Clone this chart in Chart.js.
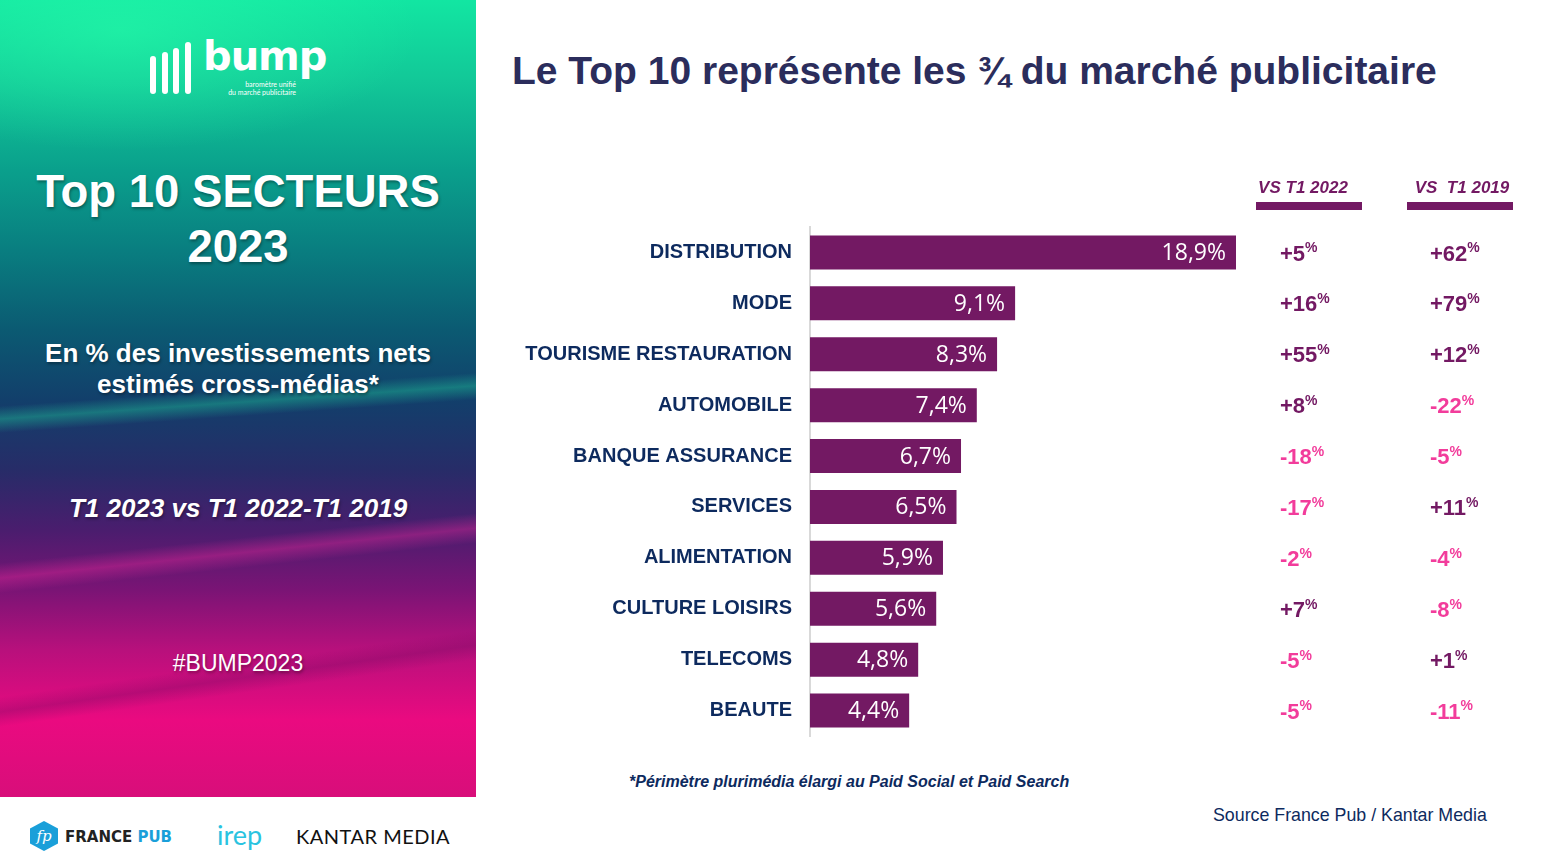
<!DOCTYPE html>
<html lang="fr">
<head>
<meta charset="utf-8">
<script src="https://cdn.jsdelivr.net/npm/chart.js@4"></script>
<style>
  html, body { margin:0; padding:0; background:#fff; width:1548px; height:859px; overflow:hidden; font-family:"Liberation Sans", Arial, sans-serif; }
  #left { position:absolute; left:0; top:0; width:476px; height:797px; overflow:hidden;
    background:
      linear-gradient(176deg, rgba(0,0,0,0) 405px, rgba(30,190,150,0.45) 418px, rgba(30,190,150,0.0) 432px, rgba(0,0,0,0) 100%),
      linear-gradient(174deg, rgba(0,0,0,0) 560px, rgba(255,40,160,0.35) 575px, rgba(0,0,0,0) 590px, rgba(0,0,0,0) 100%),
      linear-gradient(172deg, rgba(0,0,0,0) 690px, rgba(120,10,100,0.35) 705px, rgba(0,0,0,0) 720px, rgba(0,0,0,0) 100%),
      radial-gradient(ellipse 300px 120px at 120px 30px, rgba(40,255,170,0.55), rgba(40,255,170,0) 100%),
      linear-gradient(180deg, #12e6a2 0px, #12c898 80px, #0aa08c 170px, #097e80 250px, #0b5a72 330px, #123f6b 400px, #272c68 470px, #4a1d6e 530px, #7a1475 590px, #b8107c 650px, #ea0a80 720px, #d80e7a 797px);
  }
  #left .t { position:absolute; left:0; width:476px; text-align:center; color:#fff; font-weight:bold; text-shadow:1px 2px 3px rgba(0,0,0,0.35); }
  .bar { position:absolute; background:#fff; border-radius:3px; width:6px; }
  #title { position:absolute; left:512px; top:49px; font-size:39px; font-weight:bold; color:#2b2d5c; white-space:nowrap; }
  #foot { position:absolute; left:629px; top:773px; font-size:16px; font-weight:bold; font-style:italic; color:#0d2a5e; white-space:nowrap; }
  #src { position:absolute; left:1213px; top:805px; font-size:17.8px; color:#0d2a5e; white-space:nowrap; }
  #chartWrap { position:absolute; left:500px; top:160px; width:1048px; height:606px; }
</style>
</head>
<body>
<div id="left">
  <div class="bar" style="left:150px; top:56px; height:38px;"></div>
  <div class="bar" style="left:162px; top:52px; height:42px;"></div>
  <div class="bar" style="left:173px; top:48px; height:46px;"></div>
  <div class="bar" style="left:185px; top:42px; height:52px;"></div>
  <div style="position:absolute; left:203px; top:33px; font-family:'DejaVu Sans'; font-weight:bold; font-size:40px; color:#fff; letter-spacing:-1px;">bump</div>
  <div style="position:absolute; left:198px; top:80px; width:98px; text-align:right; font-size:7px; line-height:8px; color:#fff; font-family:'Lato';">baromètre unifié<br>du marché publicitaire</div>
  <div class="t" style="top:164px; font-size:45.5px; line-height:55px;">Top 10 SECTEURS<br>2023</div>
  <div class="t" style="top:338px; font-size:26px; line-height:31px;">En % des investissements nets<br>estimés cross-médias*</div>
  <div class="t" style="top:493px; font-size:26px; font-style:italic;">T1 2023 vs T1 2022-T1 2019</div>
  <div class="t" style="top:650px; font-size:23px; font-weight:normal;">#BUMP2023</div>
</div>
<div style="position:absolute; left:30px; top:821px; width:28px; height:30px; background:#1a9fd9; clip-path:polygon(50% 0,100% 25%,100% 75%,50% 100%,0 75%,0 25%); color:#fff; font-style:italic; font-size:15px; font-family:'DejaVu Serif'; text-align:center; line-height:30px;">fp</div>
<div style="position:absolute; left:65px; top:828px; font-family:'DejaVu Sans'; font-weight:bold; font-size:15px; color:#222;">FRANCE <span style="color:#1a9fd9">PUB</span></div>
<div style="position:absolute; left:217px; top:818px; font-family:'Lato'; font-size:27px; color:#2ac3e0;">irep</div>
<div style="position:absolute; left:296px; top:824px; font-family:'Lato'; font-size:20px; color:#111; letter-spacing:0.5px;">KANTAR MEDIA</div>

<div id="title">Le Top 10 représente les ¾ du marché publicitaire</div>
<div id="foot">*Périmètre plurimédia élargi au Paid Social et Paid Search</div>
<div id="src">Source France Pub / Kantar Media</div>

<div id="chartWrap"><canvas id="c" width="1048" height="606"></canvas></div>

<script>
const categories = ["DISTRIBUTION","MODE","TOURISME RESTAURATION","AUTOMOBILE","BANQUE ASSURANCE","SERVICES","ALIMENTATION","CULTURE LOISIRS","TELECOMS","BEAUTE"];
const shares = [18.9, 9.1, 8.3, 7.4, 6.7, 6.5, 5.9, 5.6, 4.8, 4.4];
const vs2022 = [5, 16, 55, 8, -18, -17, -2, 7, -5, -5];
const vs2019 = [62, 79, 12, -22, -5, 11, -4, -8, 1, -11];
const columnHeaders = ["VS T1 2022", "VS  T1 2019"];

const BAR = "#731963", POS = "#731963", NEG = "#f23c9b";

const fmt = v => v.toFixed(1).replace(".", ",") + "%";
const fmtG = v => (v > 0 ? "+" : "") + v;

const labelsPlugin = {
  id: "labels",
  afterDatasetsDraw(chart) {
    const ctx = chart.ctx;
    const meta = chart.getDatasetMeta(0);
    ctx.save();
    ctx.fillStyle = "#fff";
    ctx.font = "23px 'Open Sans'";
    ctx.textAlign = "right";
    ctx.textBaseline = "middle";
    meta.data.forEach((bar, i) => {
      ctx.fillText(fmt(shares[i]), bar.x - 10, bar.y + 1);
    });
    ctx.restore();
  },
  afterDraw(chart) {
    const ctx = chart.ctx;
    const y = chart.scales.y;
    const cols = [{x: 780, data: vs2022, hx: 803, ux: 756, uw: 106}, {x: 930, data: vs2019, hx: 962, ux: 907, uw: 106}];
    ctx.save();
    cols.forEach((c, k) => {
      ctx.fillStyle = BAR;
      ctx.font = "bold italic 17px 'Liberation Sans'";
      ctx.textAlign = "center";
      ctx.textBaseline = "middle";
      ctx.fillText(columnHeaders[k], c.hx, 28);
      ctx.fillRect(c.ux, 42, c.uw, 8);
      c.data.forEach((v, i) => {
        const yy = y.getPixelForValue(i);
        ctx.fillStyle = v > 0 ? POS : NEG;
        ctx.textAlign = "left";
        ctx.textBaseline = "middle";
        ctx.font = "bold 22px 'Liberation Sans'";
        const s = fmtG(v);
        ctx.fillText(s, c.x, yy + 2);
        const w = ctx.measureText(s).width;
        ctx.font = "bold 14px 'Liberation Sans'";
        ctx.fillText("%", c.x + w, yy - 4);
      });
    });
    ctx.restore();
  }
};

new Chart(document.getElementById("c"), {
  type: "bar",
  data: {
    labels: categories,
    datasets: [{ data: shares, backgroundColor: BAR, borderWidth: 0, barPercentage: 0.668, categoryPercentage: 1 }]
  },
  options: {
    indexAxis: "y",
    responsive: false,
    animation: false,
    layout: { padding: { top: 67, bottom: 14, left: 0, right: 312 } },
    plugins: { legend: { display: false }, tooltip: { enabled: false } },
    scales: {
      x: { display: false, min: 0, max: 18.9 },
      y: {
        afterFit(s) { s.width = 310; },
        grid: { display: false, drawTicks: false },
        border: { display: true, color: "#d9d9d9", width: 2 },
        ticks: { color: "#0d2a5e", padding: 18, font: { family: "'Liberation Sans'", weight: "bold", size: 20 } }
      }
    }
  },
  plugins: [labelsPlugin]
});
</script>
</body>
</html>
